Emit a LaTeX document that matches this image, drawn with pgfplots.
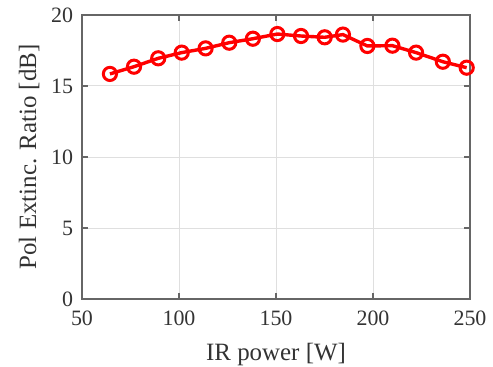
\documentclass[border=0pt]{standalone}
\usepackage{pgfplots}
\pgfplotsset{compat=1.18}
\usepackage{fontspec}
\setmainfont{Liberation Serif}
\begin{document}
\begin{tikzpicture}
\begin{axis}[
  name=ax,
  at={(41bp,34bp)}, anchor=south west,
  scale only axis, width=194bp, height=142bp,
  xmin=50, xmax=250, ymin=0, ymax=20,
  xtick={50,100,...,250}, ytick={0,5,...,20},
  grid=major, major grid style={gray!25, line width=0.5pt},
  axis line style={black!60, line width=0.6pt},
  tick style={black!60, line width=0.6pt},
  tick align=inside, major tick length=3bp,
  xticklabel style={font=\fontsize{11}{13}\selectfont, text=black!80, yshift=-2.5bp},
  yticklabel style={font=\fontsize{11}{13}\selectfont, text=black!80, xshift=-1bp},
  /pgf/number format/assume math mode=true,
  xlabel={IR power [W]}, ylabel={Pol Extinc. Ratio [dB]},
  label style={font=\fontsize{12.5}{14}\selectfont, text=black!80},
  xlabel style={yshift=-2bp},
  ylabel style={yshift=-1bp},
]
\addplot[red, line width=1.7bp, mark=o, mark size=3.3bp, mark options={line width=1.5bp}] coordinates {
(64.4,15.85) (76.8,16.36) (89.3,16.95) (101.4,17.35) (113.7,17.65) (125.9,18.05)
(138.1,18.33) (150.7,18.66) (162.9,18.52) (175.1,18.43) (184.5,18.62) (197.1,17.82)
(210,17.84) (222.2,17.35) (236,16.71) (248.3,16.29)
};
\end{axis}
\pgfresetboundingbox
\path (0,0) rectangle (246.5bp,183.5bp);
\end{tikzpicture}
\end{document}
